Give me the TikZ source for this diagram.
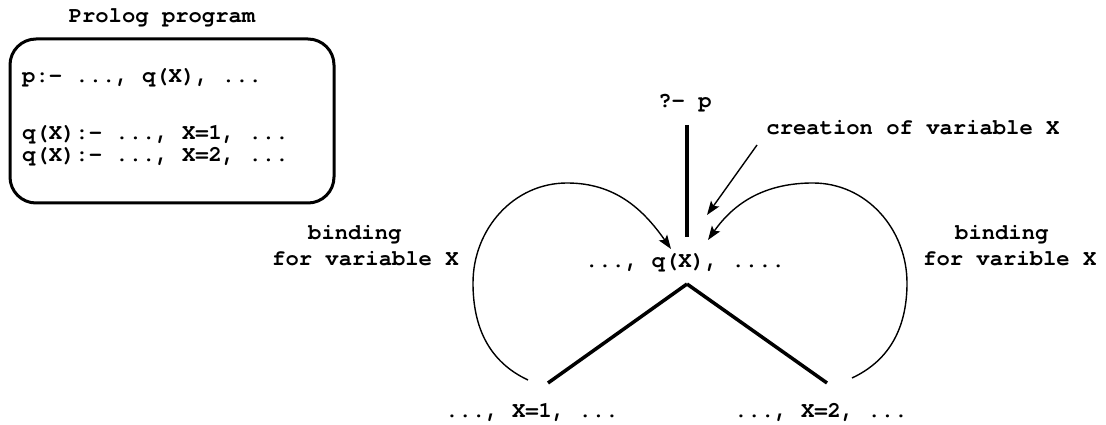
\documentclass[tikz,border=0pt]{standalone}
\usepackage{fontspec}
\setmonofont{TeX Gyre Cursor}
\usetikzlibrary{arrows.meta}
\frenchspacing
\begin{document}
\begin{tikzpicture}[x=1pt,y=1pt,
  txt/.style={font=\ttfamily\bfseries\fontsize{22.2}{27}\selectfont, inner sep=0pt, anchor=base},
  txtl/.style={txt, anchor=base west},
  curvearrow/.style={line width=1.4pt, -{Stealth[length=14pt,width=10pt,inset=3pt]}},
  branch/.style={line width=3.5pt},
  progbox/.style={draw, line width=3pt, rounded corners=26pt, minimum width=324pt, minimum height=164pt, inner sep=0pt}]
\useasboundingbox (0,0) rectangle (1106,425);

% program box
\node[txt] (title) at (162,402) {Prolog program};
\node[progbox] (prog) at (172,304) {};
\node[txtl] (l1) at (22,342) {p:- ..., q(X), ...};
\node[txtl] (l2) at (22,285) {q(X):- ..., X=1, ...};
\node[txtl] (l3) at (22,263) {q(X):- ..., X=2, ...};

% tree
\node[txt] (query) at (685,317) {?- p};
\node[txt] (creation) at (913,290) {creation of variable X};
\node[txt] (goal) at (685,157) {..., q(X), ....};
\node[txt] (sol1) at (532,7) {..., X=1, ...};
\node[txt] (sol2) at (821,7) {..., X=2, ...};

\node[txtl] (bindL1) at (308,185) {binding};
\node[txtl] (bindL2) at (272,159) {for variable X};
\node[txtl] (bindR1) at (955,185) {binding};
\node[txtl] (bindR2) at (923,159) {for varible X};

\coordinate (apex) at ([shift={(2,-16)}]goal.base);

\draw[branch] ([shift={(2,-17)}]query.base) -- ([shift={(2,31)}]goal.base);
\draw[branch] (apex) -- ([shift={(16,35)}]sol1.base);
\draw[branch] (apex) -- ([shift={(6,35)}]sol2.base);

\draw[curvearrow] ([shift={(-156,-10)}]creation.base) -- ([shift={(22,53)}]goal.base);

\draw[curvearrow] ([shift={(-4,38)}]sol1.base) to[out=155,in=270] (473,142)
  to[out=90,in=180] (567,242) to[out=0,in=125] ([shift={(-14,19)}]goal.base);

\draw[curvearrow] ([shift={(31,40)}]sol2.base) to[out=25,in=270] (907,142)
  to[out=90,in=0] (813,242) to[out=180,in=55] ([shift={(23,28)}]goal.base);
\end{tikzpicture}
\end{document}
